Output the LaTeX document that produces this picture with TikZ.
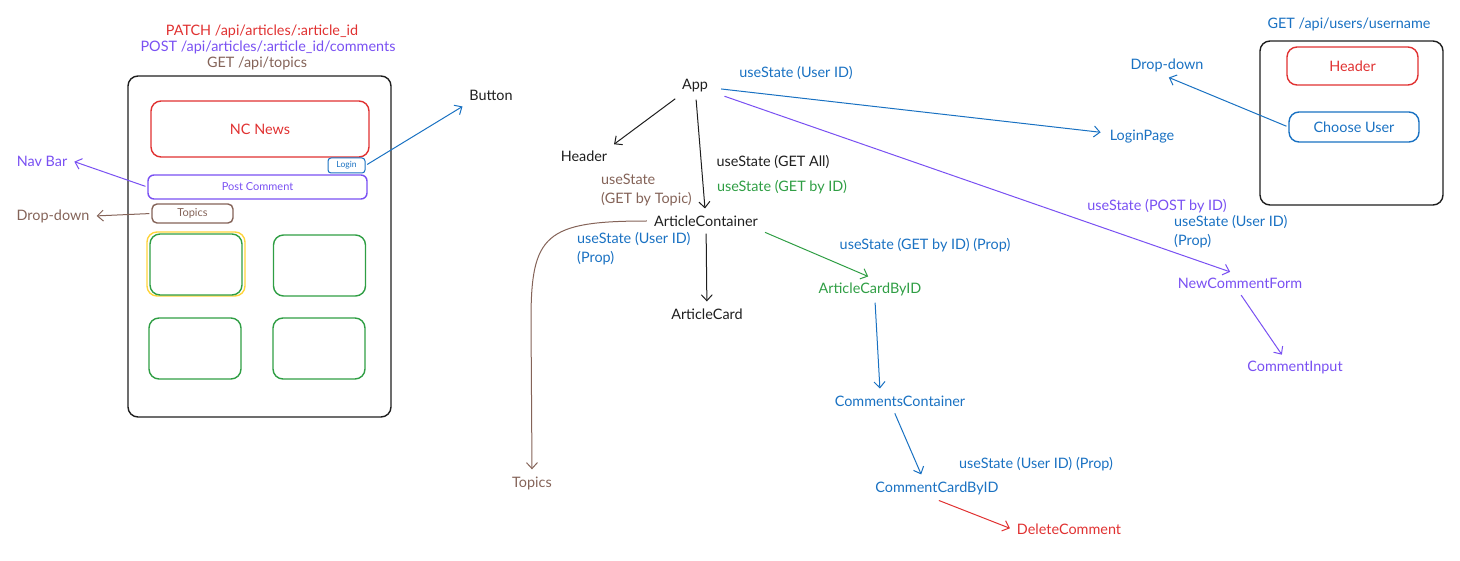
\documentclass[tikz,border=0pt]{standalone}
\usepackage{fontspec}
\setmainfont{Lato}
\usetikzlibrary{arrows.meta}
\definecolor{exred}{HTML}{E03131}
\definecolor{exviolet}{HTML}{7950F2}
\definecolor{exblue}{HTML}{1971C2}
\definecolor{exgreen}{HTML}{2F9E44}
\definecolor{exbrown}{HTML}{846358}
\definecolor{exyellow}{HTML}{FFD43B}
\definecolor{exdark}{HTML}{1E1E1E}
\begin{document}
\begin{tikzpicture}[x=1pt,y=-1pt,>={Straight Barb[length=6pt,width=11pt]},
  lbl/.style={inner sep=5pt,font=\fontsize{14.4}{19}\selectfont},
  lnk/.style={->,line width=1pt,shorten <=2pt,shorten >=2pt},
  frame/.style={draw,rounded corners=10pt,line width=1.4pt,font=\fontsize{14.4}{17}\selectfont},
  card/.style={frame,exgreen,minimum width=92pt,minimum height=61pt}]
\useasboundingbox (0,0) rectangle (1460,561);

\node[lbl,exred] (patch) at (262,31) {PATCH /api/articles/:article\_id};
\node[lbl,exviolet] (post) at (268,47) {POST /api/articles/:article\_id/comments};
\node[lbl,exbrown] (gettopics) at (257,63) {GET /api/topics};
\node[frame,exdark,minimum width=263pt,minimum height=341pt] (page) at (259.5,246.5) {};
\node[frame,exred,minimum width=218pt,minimum height=56pt] (ncnews) at (260,129) {NC News};
\node[frame,exblue,rounded corners=3pt,line width=1pt,minimum width=37pt,minimum height=15pt,inner sep=0pt,font=\fontsize{8.5}{9}\selectfont] (login) at (346.5,165.5) {Login};
\node[frame,exviolet,rounded corners=6pt,minimum width=219pt,minimum height=24pt,font=\fontsize{11}{13}\selectfont] (postbox) at (257.5,187) {Post Comment};
\node[frame,exbrown,rounded corners=5pt,minimum width=81pt,minimum height=19pt,font=\fontsize{11}{13}\selectfont] (topicsbox) at (192.5,213.5) {Topics};
\node[frame,exyellow,minimum width=98pt,minimum height=64pt] (highlight) at (196,264) {};
\node[card] (card1) at (196,264.5) {};
\node[card] (card2) at (319.5,265.5) {};
\node[card] (card3) at (195,348.5) {};
\node[card] (card4) at (319,348.5) {};
\node[lbl,exdark] (button) at (491,95) {Button};
\node[lbl,exviolet] (navbar) at (42,161) {Nav Bar};
\node[lbl,exbrown] (dropleft) at (53,216) {Drop-down};
\draw[lnk,exblue] (login.east) -- (button.south west);
\draw[lnk,exviolet] (postbox.west) -- (navbar.east);
\draw[lnk,exbrown] (topicsbox.west) -- (dropleft.east);

\node[lbl,exdark] (app) at (695,86) {App};
\node[lbl,exblue] (userapp) at (796,73) {useState (User ID)};
\node[lbl,exdark] (header) at (584,156) {Header};
\node[lbl,exdark] (getall) at (773,162) {useState (GET All)};
\node[lbl,exgreen] (getid) at (782,187) {useState (GET by ID)};
\node[lbl,exbrown,align=left,anchor=west] (bytopic) at (596,190) {useState\\(GET by Topic)};
\node[lbl,exdark] (artcont) at (706,221) {ArticleContainer};
\node[lbl,exblue,align=left,anchor=west] (usercont) at (572,249) {useState (User ID)\\(Prop)};
\node[lbl,exdark] (artcard) at (707,314) {ArticleCard};
\node[lbl,exblue] (getidprop) at (925,245) {useState (GET by ID) (Prop)};
\node[lbl,exgreen] (cardbyid) at (870,289) {ArticleCardByID};
\node[lbl,exbrown] (topics) at (532,483) {Topics};
\node[lbl,exblue] (commcont) at (900,401) {CommentsContainer};
\node[lbl,exblue] (usercomm) at (1036,464) {useState (User ID) (Prop)};
\node[lbl,exblue] (commcard) at (937,488) {CommentCardByID};
\node[lbl,exred] (delete) at (1069,529) {DeleteComment};
\node[lbl,exblue] (loginpage) at (1142,137) {LoginPage};
\node[lbl,exviolet] (postid) at (1157,206) {useState (POST by ID)};
\node[lbl,exblue,align=left,anchor=west] (userform) at (1169,231.5) {useState (User ID)\\(Prop)};
\node[lbl,exviolet] (newform) at (1240,283) {NewCommentForm};
\node[lbl,exviolet] (input) at (1295,368) {CommentInput};

\node[lbl,exblue] (getusers) at (1349,24) {GET /api/users/username};
\node[frame,exdark,minimum width=183pt,minimum height=164pt] (loginbox) at (1351.5,123) {};
\node[frame,exred,minimum width=131pt,minimum height=38pt] (headbox) at (1352.5,66) {Header};
\node[frame,exblue,minimum width=130pt,minimum height=30pt] (choose) at (1354,127) {Choose User};
\node[lbl,exblue] (dropright) at (1167,65) {Drop-down};

\draw[lnk,exdark] (app.south west) -- (header.north east);
\draw[lnk,exdark] (app) -- (artcont);
\draw[lnk,exblue,shorten <=8pt,shorten >=4pt] (app) -- (loginpage);
\draw[lnk,exviolet,shorten <=12pt] (app) -- ([xshift=-8pt]newform.north);
\draw[lnk,exdark] (artcont) -- (artcard);
\draw[lnk,exgreen] (artcont.south east) -- (cardbyid.north);
\draw[lnk,exblue] ([xshift=5pt]cardbyid.south) -- ([xshift=-20pt]commcont.north);
\draw[lnk,exblue] ([xshift=-6pt]commcont.south) -- ([xshift=-15pt]commcard.north);
\draw[lnk,exred] (commcard.south) -- (delete.west);
\draw[lnk,exviolet] (newform.south) -- ([xshift=-12pt]input.north);
\draw[lnk,exblue] (choose.west) -- (dropright.south);
\draw[lnk,exbrown] (artcont.west) .. controls (545,221) and (531,235) .. (531,320) -- (topics.north);
\end{tikzpicture}
\end{document}
